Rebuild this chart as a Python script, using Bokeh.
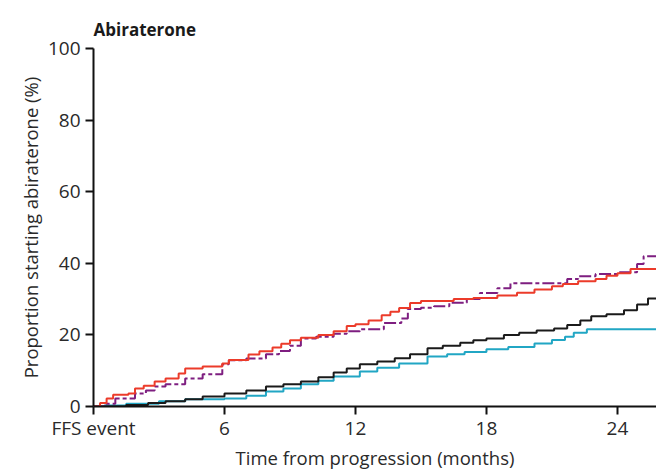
from bokeh.plotting import figure
from bokeh.models import Range1d, FixedTicker
from bokeh.embed import file_html
from bokeh.resources import INLINE

# --- data (months, % starting abiraterone) ---
red_t = [0, 0.3, 0.6, 0.9, 1.6, 1.9, 2.3, 2.8, 3.3, 3.9, 4.2, 5.0, 5.9, 6.2, 7.1, 7.6, 8.2, 8.6, 9.0,
         9.5, 10.3, 11.0, 11.6, 12.0, 12.6, 13.2, 13.6, 14.0, 14.5, 15.0, 16.5, 17.4, 18.5, 19.4, 20.2,
         21.0, 21.5, 22.2, 23.0, 23.5, 24.0, 24.6, 25.8]
red_v = [0, 1.0, 2.2, 3.3, 3.6, 5.0, 5.8, 7.0, 7.8, 9.2, 10.6, 11.2, 12.0, 13.0, 14.5, 15.4, 16.5, 17.5, 18.5,
         19.2, 20.0, 21.0, 22.5, 23.0, 24.0, 25.5, 26.5, 27.5, 28.9, 29.5, 30.0, 30.3, 31.0, 31.8, 32.7,
         33.6, 34.2, 35.0, 35.6, 36.5, 37.2, 38.4, 38.4]

purple_t = [0, 0.55, 1.0, 1.9, 2.4, 2.8, 3.3, 4.2, 5.0, 5.9, 6.2, 7.0, 7.9, 8.5, 9.0, 9.5, 10.2, 11.0, 11.6,
            12.2, 13.3, 14.1, 14.4, 15.0, 15.6, 16.3, 17.1, 17.7, 18.5, 19.1, 21.7, 22.2, 23.0, 24.0, 24.9,
            25.2, 25.8]
purple_v = [0, 0.8, 2.2, 3.6, 4.5, 5.6, 6.2, 7.8, 9.0, 11.8, 12.9, 13.4, 14.6, 15.5, 17.0, 19.0, 19.5, 20.3,
            21.0, 21.6, 23.3, 24.6, 27.2, 27.6, 28.0, 29.0, 30.0, 31.7, 33.0, 34.4, 35.6, 36.4, 37.0, 37.5,
            39.8, 42.0, 42.0]

black_t = [0, 1.5, 2.5, 3.3, 4.2, 5.0, 6.0, 7.0, 7.9, 8.7, 9.5, 10.3, 11.0, 11.6, 12.2, 13.0, 13.8, 14.5,
           15.3, 16.0, 16.8, 17.4, 18.0, 18.8, 19.5, 20.3, 21.1, 21.7, 22.3, 22.8, 23.5, 24.3, 24.9, 25.4,
           25.8]
black_v = [0, 0.4, 1.0, 1.5, 2.0, 2.8, 3.6, 4.5, 5.6, 6.2, 7.0, 8.2, 9.5, 10.6, 11.8, 12.6, 13.5, 14.6,
           16.3, 17.0, 17.8, 18.5, 19.0, 20.0, 20.6, 21.2, 21.8, 22.8, 24.0, 25.2, 25.8, 26.9, 28.5, 30.2,
           30.2]

teal_t = [0, 0.5, 1.5, 3.0, 4.2, 6.0, 7.0, 7.9, 8.7, 9.5, 10.3, 11.0, 12.2, 13.0, 14.0, 15.3, 16.2, 17.0,
          18.0, 19.0, 20.2, 21.0, 21.6, 22.0, 22.6, 25.8]
teal_v = [0, 0.3, 0.8, 1.5, 2.0, 2.2, 3.0, 4.2, 5.0, 6.2, 7.2, 8.4, 9.8, 10.8, 12.0, 14.0, 14.6, 15.2,
          16.0, 16.6, 17.6, 18.6, 19.5, 20.6, 21.6, 21.6]

x_ticks = [0, 6, 12, 18, 24]
x_tick_labels = {0: "FFS event", 6: "6", 12: "12", 18: "18", 24: "24"}
y_ticks = [0, 20, 40, 60, 80, 100]

FONT = "Open Sans"

p = figure(width=656, height=472, output_backend="svg", toolbar_location=None,
           x_range=Range1d(0, 25.79), y_range=Range1d(0, 100),
           min_border_left=93, min_border_right=0, min_border_top=48, min_border_bottom=0,
           title="Abiraterone")
p.outline_line_color = None
p.grid.visible = False
p.background_fill_color = "white"
p.border_fill_color = "white"

p.title.text_font = FONT
p.title.text_font_size = "17px"
p.title.text_font_style = "bold"
p.title.text_color = "#1a1a1a"
p.title.align = "left"
p.title.vertical_align = "top"
p.title.standoff = 12

for ax in (p.xaxis[0], p.yaxis[0]):
    ax.axis_line_color = "#111111"
    ax.axis_line_width = 2
    ax.major_tick_line_color = "#111111"
    ax.major_tick_line_width = 2
    ax.major_tick_out = 8
    ax.major_tick_in = 0
    ax.minor_tick_line_color = None
    ax.major_label_text_font = FONT
    ax.major_label_text_font_size = "19px"
    ax.major_label_text_color = "#2a2a2a"
    ax.axis_label_text_font = FONT
    ax.axis_label_text_font_style = "normal"
    ax.axis_label_text_color = "#2a2a2a"
    ax.axis_label_text_font_size = "18.5px"

p.xaxis.ticker = FixedTicker(ticks=x_ticks)
p.xaxis.major_label_overrides = x_tick_labels
p.xaxis.axis_label = "Time from progression (months)"
p.xaxis.major_label_standoff = 0
p.xaxis.axis_label_standoff = 1

p.yaxis.ticker = FixedTicker(ticks=y_ticks)
p.yaxis.axis_label = "Proportion starting abiraterone (%)"
p.yaxis.major_label_standoff = 5
p.yaxis.axis_label_standoff = 2

p.step(teal_t, teal_v, mode="after", line_color="#21a6c4", line_width=2)
p.step(black_t, black_v, mode="after", line_color="#1a1a1a", line_width=2)
p.step(purple_t, purple_v, mode="after", line_color="#7e1e80", line_width=2, line_dash="12 3 4 3")
p.step(red_t, red_v, mode="after", line_color="#ec3b2a", line_width=2)

open("out.html", "w").write(file_html(p, INLINE))
